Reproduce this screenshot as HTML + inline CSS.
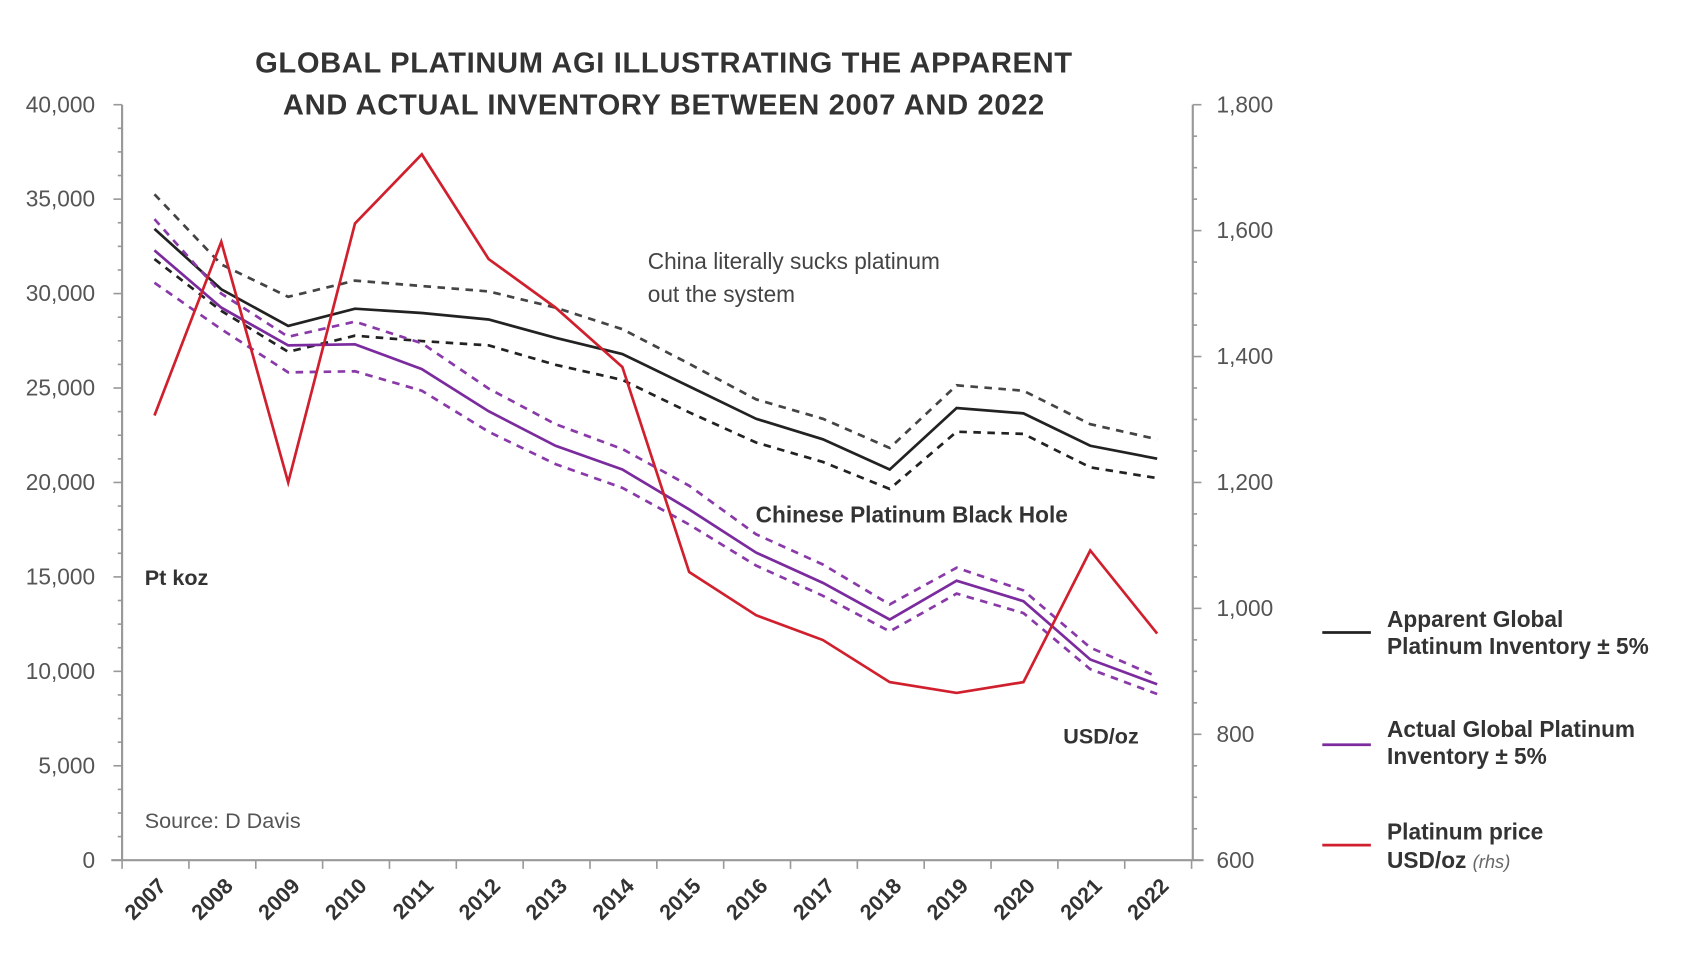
<!DOCTYPE html>
<html><head><meta charset="utf-8"><style>
html,body{margin:0;padding:0;background:#fff;}
svg{display:block;}
text{font-family:"Liberation Sans",sans-serif;}
</style></head><body>
<svg width="1684" height="966" viewBox="0 0 1560 895" xmlns="http://www.w3.org/2000/svg">
<rect width="1560" height="895" fill="#fff"/>
<g font-weight="bold" fill="#333" font-size="27" text-anchor="middle" letter-spacing="0.6">
<text x="615" y="67">GLOBAL PLATINUM AGI ILLUSTRATING THE APPARENT</text>
<text x="615" y="106">AND ACTUAL INVENTORY BETWEEN 2007 AND 2022</text>
</g>
<g stroke="#999" stroke-width="2" fill="none">
<line x1="113" y1="97" x2="113" y2="797"/>
<line x1="1105" y1="97" x2="1105" y2="797"/>
<line x1="103" y1="797" x2="1115" y2="797"/>
</g>
<g stroke="#999" stroke-width="1.5" id="ticks"></g>
<g font-size="21" fill="#555" text-anchor="end" id="ly"></g>
<g font-size="21" fill="#555" id="ry"></g>
<g font-size="20" font-weight="bold" fill="#333" id="xl"></g>
<g fill="none" stroke-width="2.5" id="series"></g>
<g fill="#333">
<text x="600" y="249" font-size="21" fill="#444">China literally sucks platinum</text>
<text x="600" y="280" font-size="21" fill="#444">out the system</text>
<text x="700" y="484" font-size="21" font-weight="bold">Chinese Platinum Black Hole</text>
<text x="134" y="542" font-size="20" font-weight="bold">Pt koz</text>
<text x="985" y="689" font-size="20" font-weight="bold">USD/oz</text>
<text x="134" y="767" font-size="20" fill="#555">Source: D Davis</text>
</g>
<g stroke-width="2.5">
<line x1="1225" y1="586" x2="1270" y2="586" stroke="#222"/>
<line x1="1225" y1="690" x2="1270" y2="690" stroke="#7b2b9e"/>
<line x1="1225" y1="783" x2="1270" y2="783" stroke="#d0202e"/>
</g>
<g font-size="21" font-weight="bold" fill="#333">
<text x="1285" y="581">Apparent Global</text>
<text x="1285" y="606">Platinum Inventory ± 5%</text>
<text x="1285" y="683">Actual Global Platinum</text>
<text x="1285" y="708">Inventory ± 5%</text>
<text x="1285" y="778">Platinum price</text>
<text x="1285" y="804">USD/oz <tspan font-style="italic" font-weight="normal" font-size="17" fill="#666">(rhs)</tspan></text>
</g>
<script>
var NS="http://www.w3.org/2000/svg";
function el(p,t,a,txt){var e=document.createElementNS(NS,t);for(var k in a)e.setAttribute(k,a[k]);if(txt!=null)e.textContent=txt;document.getElementById(p).appendChild(e);}
for(var i=0;i<=32;i++){var y=97+i*700/32;var m=i%4==0;el("ticks","line",{x1:m?105:109,y1:y,x2:113,y2:y});}
for(var i=0;i<=24;i++){var y=97+i*700/24;var m=i%4==0;el("ticks","line",{x1:1105,y1:y,x2:m?1113:1109,y2:y});}
for(var i=0;i<=8;i++){var v=40000-i*5000;el("ly","text",{x:88,y:97+i*87.5+7},v.toLocaleString("en-US"));}
for(var i=0;i<=6;i++){var v=1800-i*200;el("ry","text",{x:1127,y:97+i*116.67+7},v.toLocaleString("en-US"));}
for(var i=0;i<=16;i++){var x=113+i*61.93;el("ticks","line",{x1:x,y1:797,x2:x,y2:805});}
for(var i=0;i<16;i++){var x=143+i*61.93;el("xl","text",{x:x+12,y:822,"text-anchor":"end",transform:"rotate(-45 "+(x+12)+" 822)"},String(2007+i));}
function pl(ys,col,dash,w){var p=ys.map(function(y,i){return (143+i*61.93).toFixed(1)+","+y;}).join(" ");var a={points:p,stroke:col,"stroke-width":w||2.5};if(dash)a["stroke-dasharray"]=dash;el("series","polyline",a);}
pl([180,245,275,260,265,270,285,305,337,370,388,415,357,362,393,407],"#444","7,6");
pl([240,288,326,311,316,320,338,352,382,410,428,453,400,402,433,443],"#222","7,6");
pl([212,268,302,286,290,296,313,328,358,388,407,435,378,383,413,425],"#222",null);
pl([203,272,312,298,318,360,393,416,450,495,523,560,526,547,600,627],"#8a3aa8","7,6");
pl([262,305,345,344,362,400,430,452,486,524,552,585,550,568,620,643],"#8a3aa8","7,6");
pl([232,285,320,319,342,381,413,435,472,512,540,574,538,557,611,634],"#7b2b9e",null);
pl([385,224,447,207,143,240,285,340,530,570,593,632,642,632,510,587],"#d0202e",null);
</script>
</svg>
</body></html>
